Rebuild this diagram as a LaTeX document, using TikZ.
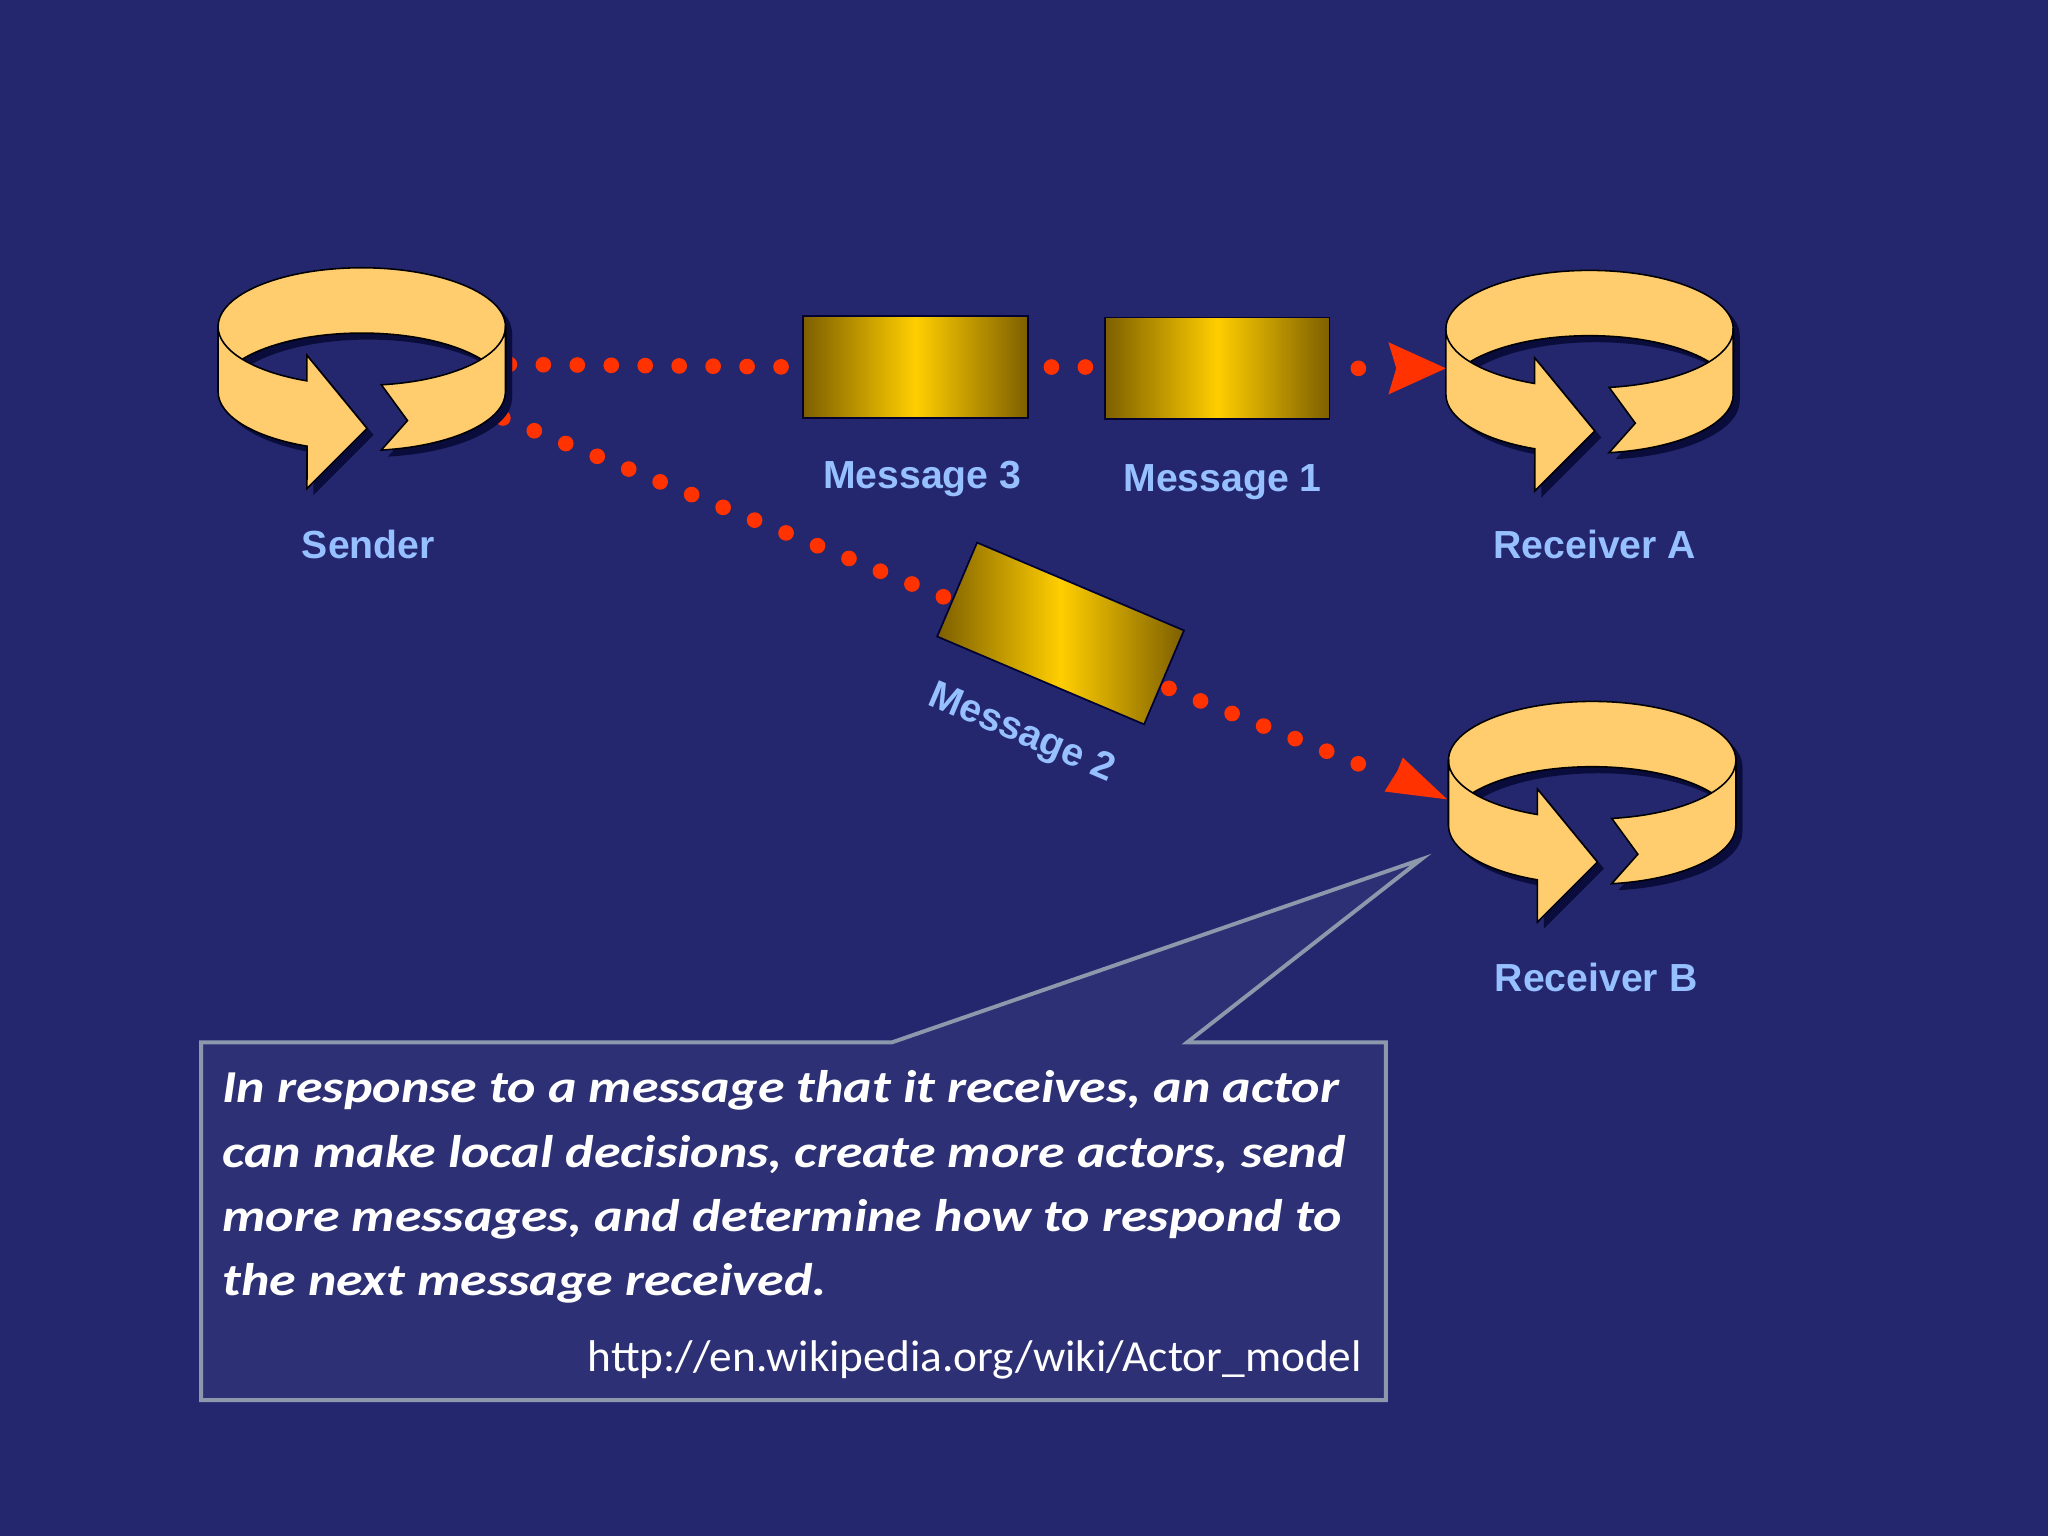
\documentclass[tikz,border=0pt]{standalone}
\usepackage{fontspec}
\setmainfont{Liberation Sans}
\newfontfamily\carl{Carlito}
\usetikzlibrary{arrows.meta}
\definecolor{bg}{RGB}{36,39,110}
\definecolor{ring}{RGB}{255,204,110}
\definecolor{lbl}{RGB}{150,192,255}
\definecolor{dot}{RGB}{255,50,0}
\definecolor{gold}{RGB}{255,206,0}
\definecolor{olive}{RGB}{125,95,0}
\definecolor{shad}{RGB}{10,12,60}
\definecolor{frame}{RGB}{140,152,172}
\tikzset{
  lab/.style={text=lbl,font=\fontsize{30}{33}\selectfont\bfseries,anchor=center},
  msg/.style={draw=black!80!blue,line width=1.2pt,minimum width=172,minimum height=78,inner sep=0,
    left color=olive,right color=olive,middle color=gold,shading angle=90},
  dots/.style={dot,line width=12,line cap=round,dash pattern=on 0pt off 26pt},
  rdot/.style={fill=dot},
  tline/.style={white,font=\carl\fontsize{35}{40}\selectfont\bfseries\itshape,anchor=base west,inner sep=0,xscale=1.18},
}
\newcommand{\ringparts}[1]{%
  \fill[#1] (-110,0) arc[start angle=180,end angle=360,x radius=110,y radius=45]
     -- (110,50) arc[start angle=360,end angle=180,x radius=110,y radius=45] -- cycle;
  \fill[#1] (-110,0) -- (-110,50) arc[start angle=180,end angle=112.4,x radius=110,y radius=45]
     -- (-42,124) -- (4,78) -- (-42,22) -- (-42,41.6)
     arc[start angle=112.4,end angle=180,x radius=110,y radius=45] -- cycle;
  \fill[#1] (110,0) -- (110,50) arc[start angle=0,end angle=82.2,x radius=110,y radius=45]
     -- (35,72) -- (15,44.6)
     arc[start angle=82.2,end angle=0,x radius=110,y radius=45] -- cycle;}
\newcommand{\ringicon}[2]{%
\begin{scope}[shift={(#1,#2)}]
  \begin{scope}[shift={(5,5)}]\ringparts{shad}\end{scope}
  \filldraw[ring,draw=black,line width=1.2pt] (-110,0) arc[start angle=180,end angle=360,x radius=110,y radius=45]
     -- (110,50) arc[start angle=360,end angle=180,x radius=110,y radius=45] -- cycle;
  \filldraw[ring,draw=black,line width=1.2pt] (-110,0) -- (-110,50) arc[start angle=180,end angle=112.4,x radius=110,y radius=45]
     -- (-42,124) -- (4,78) -- (-42,22) -- (-42,41.6)
     arc[start angle=112.4,end angle=180,x radius=110,y radius=45] -- cycle;
  \filldraw[ring,draw=black,line width=1.2pt] (110,0) -- (110,50) arc[start angle=0,end angle=82.2,x radius=110,y radius=45]
     -- (35,72) -- (15,44.6)
     arc[start angle=82.2,end angle=0,x radius=110,y radius=45] -- cycle;
\end{scope}}
\begin{document}
\begin{tikzpicture}[x=1pt,y=-1pt]
\fill[bg] (0,0) rectangle (1568,1176);
\useasboundingbox (0,0) rectangle (1568,1176);
% dotted connectors
\coordinate (s1) at (390,279);
\coordinate (s2) at (385,320);
\node[msg] (m3) at (701,281) {};
\node[msg] (m1) at (932,282) {};
\node[msg,rotate=-23] (m2) at (812,485) {};
\coordinate (ra) at (1107,282);
\coordinate (rb) at (1108,612);
\draw[dots] (s1) -- (m3.west);
\fill[rdot] (805,281) circle[radius=6] (831,281) circle[radius=6];
\fill[rdot] (1040,282) circle[radius=6];
\fill[dot] (ra) -- (1063,262) -- (1069,282) -- (1063,302) -- cycle;
\draw[dots] (s2) -- (725,458);
\draw[dots] (895,527) -- (1043,586);
\fill[dot] (rb) -- (1060,606) -- (1070,590) -- (1074,580) -- cycle;
\node[msg] at (m3) {};
\node[msg] at (m1) {};
\node[msg,rotate=-23] at (m2) {};
% rings
\ringicon{277}{250}
\ringicon{1217}{252}
\ringicon{1219}{582}
% labels
\node[lab] (ls) at (282,417) {Sender};
\node[lab] (la) at (1221,417) {Receiver A};
\node[lab] (lb) at (1222,748) {Receiver B};
\node[lab] (l3) at (706,367) {Message 3};
\node[lab] (l1) at (936,369) {Message 1};
\node[lab,rotate=-23] (l2) at (782,562) {Message 2};
% callout
\draw[frame,line width=3pt,fill=bg!96!white] (154,798) -- (683,798) -- (1088,658) -- (909,798) -- (1061,798)
  -- (1061,1072) -- (154,1072) -- cycle;
\node[tline] (t1) at (170,844) {In response to a message that it receives, an actor};
\node[tline] (t2) at (170,894) {can make local decisions, create more actors, send};
\node[tline] (t3) at (170,943) {more messages, and determine how to respond to};
\node[tline] (t4) at (170,992) {the next message received.};
\node[white,font=\carl\fontsize{34}{38}\selectfont,anchor=base east,inner sep=0,xscale=1.02] (url) at (1043,1050) {http://en.wikipedia.org/wiki/Actor\_model};
\end{tikzpicture}
\end{document}
